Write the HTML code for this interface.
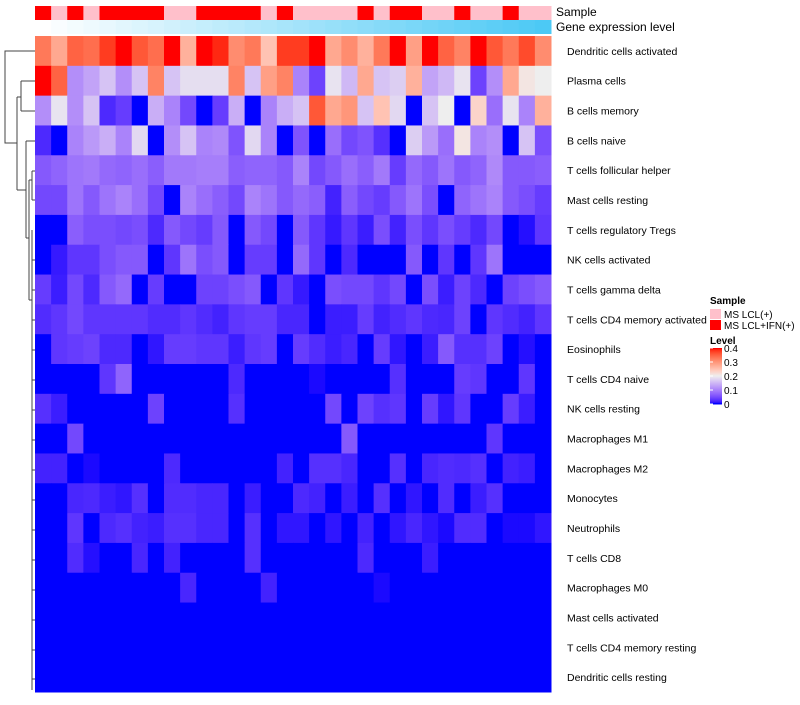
<!DOCTYPE html>
<html><head><meta charset="utf-8"><style>
body{margin:0;background:#fff;font-family:"Liberation Sans",sans-serif}
svg text{font-family:"Liberation Sans",sans-serif}
</style></head><body>
<svg id="chart" width="800" height="700" xmlns="http://www.w3.org/2000/svg">
<g id="dendro" stroke="#444" stroke-width="1" fill="none">
<path d="M35,51 H5 V143 H17"/>
<path d="M17,97 V190"/>
<path d="M17,97 H21 M21,81 V111 M21,81 H35 M21,111 H35"/>
<path d="M17,190 H26 M26,141 V238 M26,141 H35"/>
<path d="M26,238 H29 M29,180 V300 M29,180 H32 M32,171 V200 M32,171 H35 M32,200 H35"/>
<path d="M29,300 H32 M32,230 V690"/>
<path d="M32,260 H35 M32,290 H35 M32,320 H35 M32,350 H35 M32,380 H35 M32,410 H35 M32,440 H35 M32,470 H35 M32,500 H35 M32,530 H35 M32,560 H35 M32,590 H35 M32,620 H35 M32,650 H35 M32,679 H35"/>
</g>
<g id="cells"></g>
<g id="annot"></g>
<g id="labels"></g>
<text x="556" y="16" font-size="12">Sample</text>
<text x="556" y="31" font-size="12">Gene expression level</text>
<g>
<text x="710" y="304" font-size="10" font-weight="bold">Sample</text>
<rect x="710" y="309" width="11" height="10" fill="#FFC0CB"/>
<text x="724" y="318" font-size="10">MS LCL(+)</text>
<rect x="710" y="320" width="11" height="10" fill="#FF0000"/>
<text x="724" y="329" font-size="10">MS LCL+IFN(+)</text>
</g>
<g>
<text x="710" y="344" font-size="10" font-weight="bold">Level</text>
<g id="cbar"></g>
</g>
</svg>
<script>
const rowNames=["Dendritic cells activated","Plasma cells","B cells memory","B cells naive","T cells follicular helper","Mast cells resting","T cells regulatory  Tregs","NK cells activated","T cells gamma delta","T cells CD4 memory activated","Eosinophils","T cells CD4 naive","NK cells resting","Macrophages M1","Macrophages M2","Monocytes","Neutrophils","T cells CD8","Macrophages M0","Mast cells activated","T cells CD4 memory resting","Dendritic cells resting"];
const sampleGroups=[1,0,1,0,1,1,1,1,0,0,1,1,1,1,0,1,0,0,0,0,1,0,1,1,0,0,1,0,0,1,0,0];
const legendTicks=[0,0.1,0.2,0.3,0.4];
const r1=[.33,.28,.35,.34,.38,.4,.36,.34,.4,.27,.4,.39,.31,.33,.25,.38,.38,.4,.28,.31,.27,.33,.4,.29,.4,.35,.32,.4,.36,.33,.37,.31];
const r2=[.4,.35,.11,.13,.16,.11,.16,.32,.16,.185,.185,.185,.32,.16,.29,.32,.1,.04,.19,.15,.28,.16,.17,.27,.13,.15,.19,.04,.11,.28,.21,.2];
const r3=[.11,.19,.11,.16,.02,.035,0,.14,.1,.045,0,.035,.14,0,.1,.14,.16,.36,.28,.3,.16,.25,.18,0,.16,.2,0,.23,.08,.19,.1,.27];
const r4=[.02,0,.1,.12,.14,.1,.18,0,.11,.16,.1,.105,.055,.18,.1,0,.055,0,.08,.045,.055,.025,0,.17,.12,.08,.21,.1,.11,0,.16,.05];
const r5=[.06,.07,.085,.09,.075,.07,.08,.065,.09,.09,.095,.095,.065,.07,.07,.06,.1,.045,.06,.08,.065,.09,.035,.075,.06,.085,.06,.07,.105,.06,.06,.065];
const r6=[.045,.045,.085,.06,.085,.1,.08,.045,0,.1,.08,.065,.045,.1,.085,.06,.075,.065,.015,.065,.045,.035,.06,.085,.05,0,.07,.085,.1,.06,.05,.035];
const r7=[0,0,.065,.05,.05,.045,.05,.02,.06,.045,.035,.06,0,.06,.045,0,.06,.03,.01,.03,.012,.05,.015,.05,.03,.05,.035,.02,.045,0,.005,.03];
const r8=[0,.01,.03,.03,.05,.06,.06,0,.03,.085,.05,.06,0,.035,.035,0,.075,.03,0,.02,0,0,0,.06,0,.03,0,.03,.085,0,0,0];
const r9=[.035,.012,.045,.02,.06,.075,0,.035,0,0,.04,.04,.05,.06,0,.03,.01,0,.05,.045,.045,.03,.045,0,.05,.012,.04,.02,0,.04,.05,.06];
const r10=[.022,.03,.045,.03,.03,.03,.03,.022,.022,.03,.022,.015,.03,.035,.035,.018,.018,0,.012,.012,.035,.015,.022,.03,.02,.018,.04,0,.03,.022,.015,.03];
const r11=[0,.03,.035,.04,.02,.02,0,.008,.035,.035,.03,.03,.012,.03,.035,0,.035,.022,.012,.018,0,.035,.008,0,.012,.06,.025,.025,.04,0,.005,0];
const r12=[0,0,0,0,.03,.07,0,0,0,0,0,0,.02,0,0,0,0,.003,0,0,0,0,.025,0,0,0,.035,.03,0,0,.03,0];
const r13=[.025,.012,0,0,0,0,0,.04,0,0,0,0,.025,0,0,0,0,0,.045,0,.04,.025,.03,0,.035,.008,.03,0,0,.035,.012,0];
const r14=[0,0,.045,0,0,0,0,0,0,0,0,0,0,0,0,0,0,0,0,.06,0,0,0,0,0,0,0,0,.03,0,0,0];
const r15=[.015,.015,0,.003,0,0,0,0,.02,0,0,0,0,0,0,.015,0,.025,.025,.018,0,0,.025,0,.018,.022,.02,.025,0,.015,.012,0];
const r16=[0,0,.018,.02,.012,.008,.025,0,.022,.022,.018,.018,0,.012,0,0,.02,.015,0,.012,0,.025,0,.008,0,.022,0,.012,.025,0,0,0];
const r17=[0,0,.03,0,.02,.025,.015,.012,.025,.025,.018,.018,0,.025,0,.008,.008,0,.008,0,.015,0,.008,.018,.008,.003,.022,.022,0,.003,.003,.008];
const r18=[0,0,.022,.005,0,0,.018,0,.015,0,0,0,0,.025,0,0,0,0,0,0,.02,0,0,0,.012,0,0,0,0,0,0,0];
const r19=[0,0,0,0,0,0,0,0,0,.018,0,0,0,0,.015,0,0,0,0,0,0,.003,0,0,0,0,0,0,0,0,0,0];
const r20=[0,0,0,0,0,0,0,0,0,0,0,0,0,0,0,0,0,0,0,0,0,0,0,0,0,0,0,0,0,0,0,0];
const r21=[0,0,0,0,0,0,0,0,0,0,0,0,0,0,0,0,0,0,0,0,0,0,0,0,0,0,0,0,0,0,0,0];
const r22=[0,0,0,0,0,0,0,0,0,0,0,0,0,0,0,0,0,0,0,0,0,0,0,0,0,0,0,0,0,0,0,0];
const values=[r1,r2,r3,r4,r5,r6,r7,r8,r9,r10,r11,r12,r13,r14,r15,r16,r17,r18,r19,r20,r21,r22];

const NS="http://www.w3.org/2000/svg";
const X0=35,X1=551,Y0=36,Y1=692;
const nC=values[0].length,nR=values.length;
const cw=(X1-X0)/nC,rh=(Y1-Y0)/nR;
const xs=c=>X0+c*cw, ys=r=>Y0+r*rh;
// Lab color interpolation
function s2l(c){c/=255;return c<=0.04045?c/12.92:Math.pow((c+0.055)/1.055,2.4)}
function l2s(c){c=c<=0.0031308?12.92*c:1.055*Math.pow(c,1/2.4)-0.055;return Math.max(0,Math.min(255,Math.round(c*255)))}
function toLab(rgb){const[r,g,b]=rgb.map(s2l);let X=(r*0.4124+g*0.3576+b*0.1805)/0.95047,Y=r*0.2126+g*0.7152+b*0.0722,Z=(r*0.0193+g*0.1192+b*0.9505)/1.08883;const f=t=>t>0.008856?Math.cbrt(t):7.787*t+16/116;return[116*f(Y)-16,500*(f(X)-f(Y)),200*(f(Y)-f(Z))]}
function fromLab(L){let fy=(L[0]+16)/116,fx=fy+L[1]/500,fz=fy-L[2]/200;const fi=t=>t*t*t>0.008856?t*t*t:(t-16/116)/7.787;const X=fi(fx)*0.95047,Y=fi(fy),Z=fi(fz)*1.08883;const r=X*3.2406+Y*-1.5372+Z*-0.4986,g=X*-0.9689+Y*1.8758+Z*0.0415,b=X*0.0557+Y*-0.2040+Z*1.0570;return`rgb(${l2s(r)},${l2s(g)},${l2s(b)})`}
const LB=toLab([0,0,255]),LW=toLab([238,238,238]),LR=toLab([255,0,0]);
function col(v){v=Math.max(0,Math.min(0.4,v));let a,b,t;if(v<=0.2){a=LB;b=LW;t=v/0.2}else{a=LW;b=LR;t=(v-0.2)/0.2}return fromLab(a.map((x,i)=>x+(b[i]-x)*t))}
const gCells=document.getElementById('cells');
values.forEach((row,r)=>row.forEach((v,c)=>{
 const el=document.createElementNS(NS,'rect');
 el.setAttribute('x',xs(c));el.setAttribute('y',ys(r));
 el.setAttribute('width',cw+0.5);el.setAttribute('height',rh+0.5);
 el.setAttribute('fill',col(v));
 
 
 gCells.appendChild(el);
}));
const gA=document.getElementById('annot');
sampleGroups.forEach((s,c)=>{
 const el=document.createElementNS(NS,'rect');
 el.setAttribute('x',xs(c));el.setAttribute('y',6);el.setAttribute('width',cw+0.5);el.setAttribute('height',14);
 el.setAttribute('fill',s?'#FF0000':'#FFC0CB');
 
 
 gA.appendChild(el);
 const g=document.createElementNS(NS,'rect');
 const t=c/(nC-1);
 g.setAttribute('x',xs(c));g.setAttribute('y',20);g.setAttribute('width',cw+0.5);g.setAttribute('height',14);
 g.setAttribute('fill',`rgb(${Math.round(255+(76-255)*t)},${Math.round(255+(201-255)*t)},${Math.round(255+(245-255)*t)})`);
 
 
 gA.appendChild(g);
});
const gL=document.getElementById('labels');
rowNames.forEach((n,r)=>{
 const t=document.createElementNS(NS,'text');
 t.setAttribute('x',567);t.setAttribute('y',ys(r)+rh/2+4);t.setAttribute('font-size','10.5');
 t.textContent=n;
 
 
 gL.appendChild(t);
});
const cb=document.getElementById('cbar');
const CB0=348,CB1=404;
for(let i=0;i<56;i++){
 const v=0.4*(1-i/55);
 const el=document.createElementNS(NS,'rect');
 el.setAttribute('x',710);el.setAttribute('y',CB0+i);el.setAttribute('width',12);el.setAttribute('height',1.5);
 el.setAttribute('fill',col(v));
 
 
 cb.appendChild(el);
}
legendTicks.forEach(v=>{
 const y=CB1-(v/0.4)*(CB1-CB0);
 const t=document.createElementNS(NS,'text');
 t.setAttribute('x',724);t.setAttribute('y',y+4);t.setAttribute('font-size','10');
 t.textContent=String(v);
 
 
 cb.appendChild(t);
 const l=document.createElementNS(NS,'line');
 l.setAttribute('x1',710);l.setAttribute('x2',713);l.setAttribute('y1',y);l.setAttribute('y2',y);l.setAttribute('stroke','#fff');
 
 
 cb.appendChild(l);
});
</script>
</body></html>
